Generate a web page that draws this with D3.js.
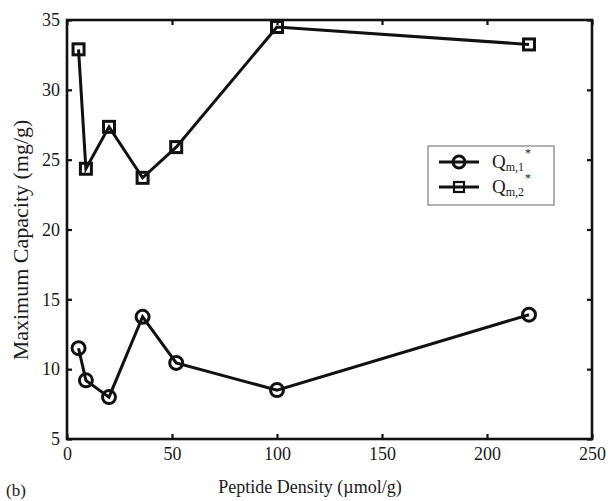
<!DOCTYPE html>
<head>
    <script src="https://d3js.org/d3.v7.min.js" charset="utf-8"></script>
    <style>
    body { margin: 0; background: #fff; }
    svg text { font-family: "Liberation Serif", "Times New Roman", serif; fill: #1a1a1a; }
    .axis path { display: none; }
    .axis line { stroke: #111; stroke-width: 2.2; }
    .series { fill: none; stroke: #111; stroke-width: 3; }
    .mark { fill: none; stroke: #111; stroke-width: 3; }
    </style>
</head>
<body>
<svg id="chart" width="608" height="501"></svg>
<script>
    // data
    var density = [5.5, 9, 20, 36, 52, 100, 220];
    var qm1 = [11.5, 9.2, 8.0, 13.75, 10.45, 8.5, 13.9];
    var qm2 = [32.9, 24.35, 27.35, 23.7, 25.9, 34.5, 33.25];
    var xTicks = [0, 50, 100, 150, 200, 250];
    var yTicks = [5, 10, 15, 20, 25, 30, 35];

    var plotLeft = 67, plotRight = 592, plotTop = 20, plotBottom = 439;
    var svg = d3.select("#chart");

    var xScale = d3.scaleLinear().domain([0, 250]).range([plotLeft, plotRight]);
    var yScale = d3.scaleLinear().domain([5, 35]).range([plotBottom, plotTop]);

    // inward ticks on all four sides
    svg.append("g").attr("class", "axis")
        .attr("transform", "translate(0," + plotBottom + ")")
        .call(d3.axisBottom(xScale).tickValues(xTicks).tickSizeInner(-5).tickSizeOuter(0).tickPadding(8));
    svg.append("g").attr("class", "axis")
        .attr("transform", "translate(0," + plotTop + ")")
        .call(d3.axisTop(xScale).tickValues(xTicks).tickSizeInner(-5).tickSizeOuter(0).tickFormat(""));
    svg.append("g").attr("class", "axis")
        .attr("transform", "translate(" + plotLeft + ",0)")
        .call(d3.axisLeft(yScale).tickValues(yTicks).tickSizeInner(-5).tickSizeOuter(0).tickPadding(7));
    svg.append("g").attr("class", "axis")
        .attr("transform", "translate(" + plotRight + ",0)")
        .call(d3.axisRight(yScale).tickValues(yTicks).tickSizeInner(-5).tickSizeOuter(0).tickFormat(""));

    svg.selectAll(".axis text")
        .style("font-family", "'Liberation Serif', serif")
        .style("font-size", "18px");

    svg.append("rect")
        .attr("x", plotLeft).attr("y", plotTop)
        .attr("width", plotRight - plotLeft).attr("height", plotBottom - plotTop)
        .attr("fill", "none").attr("stroke", "#111").attr("stroke-width", 2.6);

    var line = d3.line()
        .x(function(d){ return xScale(d[0]); })
        .y(function(d){ return yScale(d[1]); });

    var pts1 = density.map(function(x, i){ return [x, qm1[i]]; });
    var pts2 = density.map(function(x, i){ return [x, qm2[i]]; });

    svg.append("path").attr("class", "series").attr("d", line(pts1));
    svg.append("path").attr("class", "series").attr("d", line(pts2));

    svg.selectAll(".c1").data(pts1).enter().append("circle")
        .attr("class", "mark")
        .attr("cx", function(d){ return xScale(d[0]); })
        .attr("cy", function(d){ return yScale(d[1]); })
        .attr("r", 6.5);

    svg.selectAll(".s2").data(pts2).enter().append("rect")
        .attr("class", "mark")
        .attr("x", function(d){ return xScale(d[0]) - 5.5; })
        .attr("y", function(d){ return yScale(d[1]) - 5.5; })
        .attr("width", 11).attr("height", 11);

    // axis titles
    svg.append("text")
        .attr("x", 310).attr("y", 493)
        .attr("text-anchor", "middle")
        .style("font-size", "18px")
        .text("Peptide Density (\u00b5mol/g)");

    svg.append("text")
        .attr("transform", "translate(28,240) rotate(-90)")
        .attr("text-anchor", "middle")
        .style("font-size", "22px")
        .text("Maximum Capacity (mg/g)");

    svg.append("text")
        .attr("x", 6).attr("y", 496)
        .style("font-size", "17px")
        .text("(b)");

    // legend
    var legend = svg.append("g");
    legend.append("rect")
        .attr("x", 428).attr("y", 146).attr("width", 126).attr("height", 59)
        .attr("fill", "#fff").attr("stroke", "#666").attr("stroke-width", 1);

    var entries = [{sub: "m,1", y: 162, shape: "circle"}, {sub: "m,2", y: 187, shape: "square"}];
    entries.forEach(function(e){
        legend.append("line")
            .attr("x1", 439).attr("x2", 479).attr("y1", e.y).attr("y2", e.y)
            .attr("stroke", "#111").attr("stroke-width", 3);
        if (e.shape == "circle") {
            legend.append("circle").attr("class", "mark")
                .attr("cx", 459).attr("cy", e.y).attr("r", 6);
        } else {
            legend.append("rect").attr("class", "mark")
                .attr("x", 454).attr("y", e.y - 5).attr("width", 10).attr("height", 10)
                .attr("fill", "#fff").style("stroke-width", 2.2);
        }
        var t = legend.append("text")
            .attr("x", 492).attr("y", e.y + 6)
            .style("font-size", "19px");
        t.append("tspan").text("Q");
        t.append("tspan").attr("dy", 3).style("font-size", "12px").text(e.sub);
        t.append("tspan").attr("dy", -14).attr("dx", 1).style("font-size", "12px").text("*");
    });
</script>
</body>
